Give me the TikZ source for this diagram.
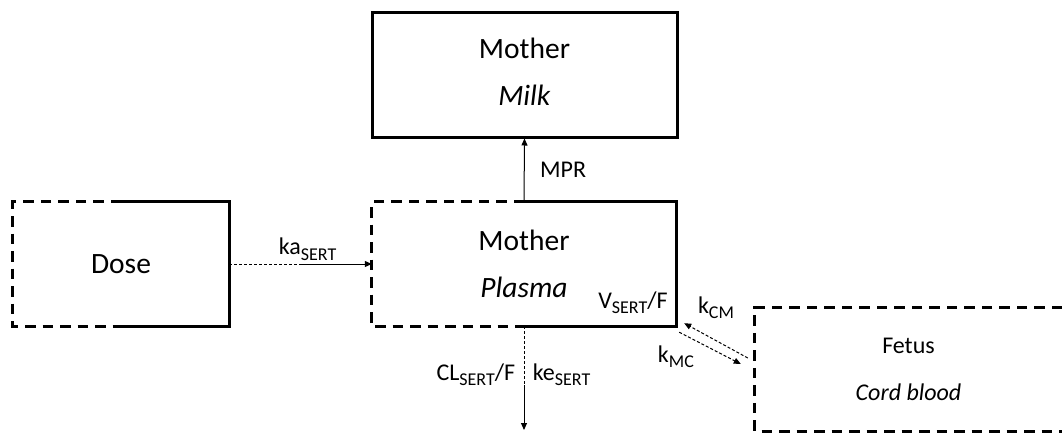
\documentclass[tikz,border=0pt]{standalone}
\usepackage{fontspec}
\setmainfont{Carlito}
\usetikzlibrary{arrows.meta,calc}
\newcommand{\sbt}[1]{\raisebox{-0.22em}{\fontsize{18}{19}\selectfont #1}}

\begin{document}
\begin{tikzpicture}[x=1pt, y=1pt,
    comp/.style={minimum height=124pt, inner sep=0pt, align=center, font=\fontsize{29.5}{47}\selectfont},
    solidside/.style={line width=3pt},
    dashside/.style={line width=3pt, dash pattern=on 10.5pt off 7pt},
    rate/.style={line width=1pt},
    dotrate/.style={line width=1pt, dash pattern=on 3pt off 2pt},
    arrowhd/.style={-{Triangle[length=7pt,width=6pt]}},
    lab/.style={font=\fontsize{24}{27}\selectfont}]

    \useasboundingbox (0,0) rectangle (1062,432);

    % Compartments
    \node[comp, draw, solidside, minimum width=305pt, text depth=7pt] (milk) at (524.5,357) {Mother\\\textit{Milk}};
    \node[comp, minimum width=304pt] (plasma) at (524,168) {Mother\\\textit{Plasma}};
    \node[comp, minimum width=216pt] (dose) at (121,168) {Dose};
    \node[comp, minimum width=307pt, minimum height=123pt, font=\fontsize{24}{47}\selectfont] (fetus) at (908.5,62.5) {Fetus\\\textit{Cord blood}};
    \node[lab, anchor=south east] (vol) at ([shift={(-5,9)}]plasma.south east) {V\sbt{SERT}/F};

    % Box sides: dashed half and solid half
    \draw[dashside] (dose.north) -- (dose.north west) -- (dose.south west) -- (dose.south);
    \draw[solidside] (dose.north) -- (dose.north east) -- (dose.south east) -- (dose.south);
    \draw[dashside] (plasma.north) -- (plasma.north west) -- (plasma.south west) -- (plasma.south);
    \draw[solidside] (plasma.north) -- (plasma.north east) -- (plasma.south east) -- (plasma.south);
    \draw[dashside] (fetus.north east) -- (fetus.north west) -- (fetus.south west) -- (fetus.south east);

    % Absorption
    \coordinate (kamid) at ($(dose.east)!0.5!(plasma.west)$);
    \draw[dotrate] (dose.east) -- (kamid);
    \draw[rate, arrowhd] (kamid) -- node[lab, above, pos=0.1] (kalab) {ka\sbt{SERT}} (plasma.west);

    % Transfer to milk
    \draw[rate, arrowhd] (plasma.north) -- node[lab, right=12pt] (mprlab) {MPR} (milk.south);

    % Elimination
    \coordinate (elimmid) at (524,47);
    \coordinate (elimend) at (524,2);
    \draw[dotrate] (plasma.south) -- node[lab, pos=0.83, left=5pt] (cllab) {CL\sbt{SERT}/F}
        node[lab, pos=0.83, right=5pt] (kelab) {ke\sbt{SERT}} (elimmid);
    \draw[rate, arrowhd] (elimmid) -- (elimend);

    % Exchange with the fetus
    \draw[dotrate, arrowhd] ([shift={(-7,11.5)}]fetus.west) -- node[lab, above=18pt] (kcmlab) {k\sbt{CM}} ([shift={(8,3)}]plasma.south east);
    \draw[dotrate, arrowhd] ([shift={(3,-6)}]plasma.south east) -- node[lab, pos=0.3, below left] (kmclab) {k\sbt{MC}} ([shift={(-14,5.5)}]fetus.west);

\end{tikzpicture}
\end{document}
